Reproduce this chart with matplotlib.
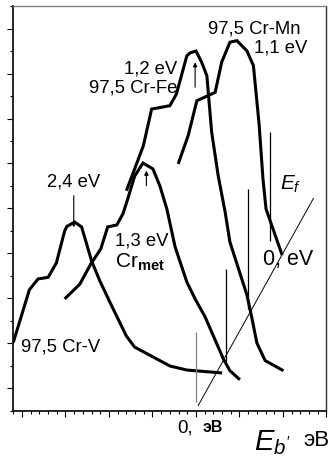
#!/usr/bin/env python3
"""
Valence band spectra of Cr and Cr alloys (97,5 Cr-V / Cr-Fe / Cr-Mn).
Writes out.png (335x464 px).
"""

import matplotlib
matplotlib.use('Agg')
import matplotlib.pyplot as plt
from matplotlib.ticker import MultipleLocator

# Spectra: binding energy (eV, 0 = Fermi level of Cr_met) and intensity (arb. units)
cr_v_x = [-4.2, -3.83, -3.63, -3.40, -3.21, -3.02, -2.97, -2.79, -2.63, -2.48,
          -2.40, -2.21, -1.98, -1.60, -1.41, -0.60, -0.21, 0.60]
cr_v_y = [3.05, 5.39, 5.87, 5.94, 6.58, 8.0, 8.2, 8.4, 8.18, 7.2,
          6.67, 5.78, 4.84, 3.33, 2.84, 2.0, 1.82, 1.69]

cr_met_x = [-3.02, -2.67, -2.42, -2.19, -2.03, -1.82, -1.68, -1.57, -1.41, -1.22,
            -0.99, -0.83, -0.67, -0.48, -0.21, -0.02, 0.21, 0.63, 0.78, 1.01]
cr_met_y = [4.98, 5.64, 6.53, 7.2, 8.18, 8.27, 8.76, 9.42, 10.44, 11.02,
            10.76, 10.0, 8.98, 7.29, 5.73, 4.98, 4.18, 2.31, 1.79, 1.39]

cr_fe_x = [-1.60, -1.41, -1.21, -1.02, -0.60, -0.45, -0.21, -0.14, 0.0, 0.13,
           0.25, 0.36, 0.51, 0.67, 0.78, 1.17, 1.28, 1.40, 1.59, 2.01]
cr_fe_y = [9.79, 10.76, 11.79, 13.42, 13.57, 14.09, 15.79, 15.91, 16.0, 15.5,
           14.9, 12.4, 10.46, 8.84, 7.51, 5.16, 4.18, 3.02, 2.24, 1.79]

cr_mn_x = [-0.41, -0.18, 0.02, 0.44, 0.59, 0.78, 0.94, 1.17, 1.32, 1.45,
           1.54, 1.61, 1.98]
cr_mn_y = [10.98, 12.24, 13.79, 14.16, 15.5, 16.39, 16.46, 16.01, 15.35, 12.76,
           10.31, 8.98, 6.93]

# Fermi level markers (x, y_low, y_high)
fermi_x = [0.0, 0.68, 1.205, 1.69]
fermi_lo = [0.4, 2.18, 4.53, 7.56]
fermi_hi = [3.51, 6.31, 9.87, 12.4]
fermi_colors = ['#808080', 'black', 'black', 'black']

# E_f axis line
ef_x = [0.05, 2.70]
ef_y = [0.24, 9.45]

# Peak arrows (x, tail y, head y)
arrow_x = [-2.81, -1.14, -0.02]
arrow_tail = [9.57, 10.01, 14.39]
arrow_head = [8.16, 10.68, 15.5]


def create_chart(output="out.png"):
    """Draw the spectra and save to file."""
    plt.rcParams['font.family'] = ['Liberation Sans', 'DejaVu Sans']
    plt.rcParams['mathtext.fontset'] = 'custom'
    plt.rcParams['mathtext.rm'] = 'Liberation Sans'
    plt.rcParams['mathtext.it'] = 'Liberation Sans:italic'
    plt.rcParams['mathtext.bf'] = 'Liberation Sans:bold'

    fig = plt.figure(figsize=(3.35, 4.64), dpi=100)
    ax = fig.add_axes([0.0397, 0.1121, 0.9349, 0.8728])

    # Spectra
    for xs, ys in [(cr_v_x, cr_v_y), (cr_met_x, cr_met_y),
                   (cr_fe_x, cr_fe_y), (cr_mn_x, cr_mn_y)]:
        ax.plot(xs, ys, color='black', lw=2.2, solid_joinstyle='miter',
                solid_capstyle='butt')

    # Fermi markers and E_f line
    ax.vlines(fermi_x, fermi_lo, fermi_hi, colors=fermi_colors, lw=0.9)
    ax.plot(ef_x, ef_y, color='black', lw=0.7)

    # Arrows at peaks
    for x, y0, y1 in zip(arrow_x, arrow_tail, arrow_head):
        ax.annotate('', xy=(x, y1), xytext=(x, y0),
                    arrowprops=dict(arrowstyle='-|>', color='black', lw=0.8,
                                    mutation_scale=6, shrinkA=0, shrinkB=0))

    # Labels
    fs = 13.3
    ax.text(0.276, 16.84, '97,5 Cr-Mn', fontsize=fs, ha='left', va='baseline')
    ax.text(1.336, 16.0, '1,1 eV', fontsize=fs, ha='left', va='baseline')
    ax.text(-0.42, 15.05, '1,2 eV', fontsize=fs, ha='right', va='baseline')
    ax.text(-0.42, 14.22, '97,5 Cr-Fe', fontsize=fs, ha='right', va='baseline')
    ax.text(-2.81, 10.0, '2,4 eV', fontsize=fs, ha='center', va='baseline')
    ax.text(-1.87, 7.42, '1,3 eV', fontsize=fs, ha='left', va='baseline')
    ax.text(-1.87, 6.4, r'Cr$_{\mathbf{met}}$', fontsize=15, ha='left', va='baseline')
    ax.text(-4.03, 2.67, '97,5 Cr-V', fontsize=fs, ha='left', va='baseline')
    ax.text(1.935, 9.87, r'$E_f$', fontsize=15, ha='left', va='baseline')
    ax.text(1.544, 6.53, '0, eV', fontsize=15.5, ha='left', va='baseline')

    # Axis annotations below the frame
    ax.text(-0.42, -0.93, '0,', fontsize=13.5, ha='left', va='baseline')
    ax.text(0.14, -0.89, 'эВ', fontsize=11.5, fontweight='bold',
            ha='left', va='baseline')
    ax.text(1.34, -1.69, r"$E_{b'}$", fontsize=21, ha='left', va='baseline')
    ax.text(2.465, -1.51, 'эВ', fontsize=16, ha='left', va='baseline')

    # Axes styling
    ax.set_xlim(-4.2, 3.0)
    ax.set_ylim(0, 18)
    ax.xaxis.set_major_locator(MultipleLocator(1))
    ax.xaxis.set_minor_locator(MultipleLocator(0.2))
    ax.yaxis.set_major_locator(MultipleLocator(2, offset=1))
    ax.yaxis.set_minor_locator(MultipleLocator(1))
    ax.tick_params(which='both', direction='out', top=False, right=False,
                   labelbottom=False, labelleft=False, width=0.8, color='black')
    ax.tick_params(which='major', length=4.5)
    ax.tick_params(which='minor', length=2.2)

    for side in ['left', 'bottom']:
        ax.spines[side].set_linewidth(1.2)
        ax.spines[side].set_color('black')
    ax.spines['top'].set_color('#808080')
    ax.spines['top'].set_linewidth(1.0)
    ax.spines['right'].set_color('#303030')
    ax.spines['right'].set_linewidth(1.0)

    fig.savefig(output, dpi=100, facecolor='white')
    plt.close(fig)
    return output


if __name__ == "__main__":
    create_chart()
